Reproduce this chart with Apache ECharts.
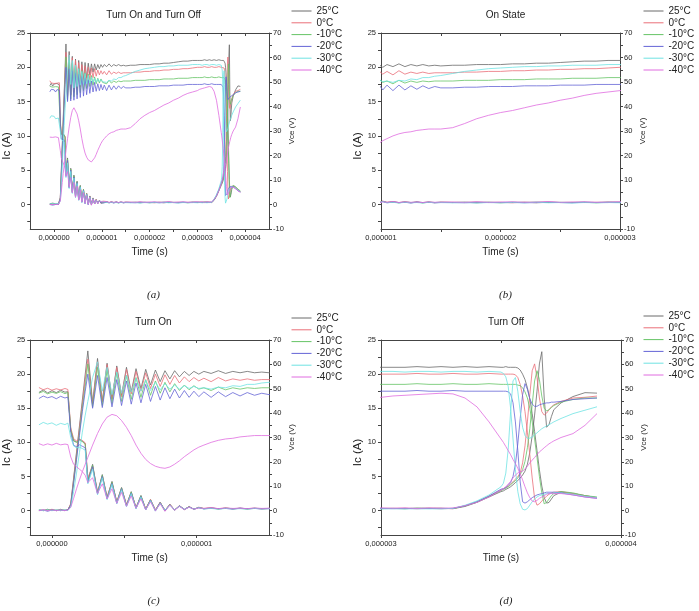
<!DOCTYPE html>
<html><head><meta charset="utf-8">
<script src="https://cdn.jsdelivr.net/npm/echarts@6/dist/echarts.min.js"></script>
<style>html,body{margin:0;padding:0;background:#fff}#c{width:699px;height:611px}</style>
</head><body><div id="c"></div>
<script>
// time in microseconds
const T = [
 -0.09, -0.06, -0.03, 0.0, 0.03, 0.06, 0.09, 0.11,
 0.13, 0.15, 0.17, 0.19, 0.21, 0.23,
 0.248, 0.281, 0.315, 0.348, 0.381, 0.415, 0.448, 0.481, 0.515, 0.548, 0.581, 0.615,
 0.648, 0.681, 0.715, 0.748, 0.781, 0.815, 0.848, 0.881, 0.915, 0.948, 0.981, 1.015,
 1.05, 1.1, 1.15, 1.2, 1.25, 1.3, 1.35, 1.4, 1.45, 1.5,
 1.6, 1.7, 1.8, 1.9, 2.0, 2.1, 2.2, 2.3, 2.4, 2.5, 2.6, 2.7, 2.8, 2.9, 3.0,
 3.05, 3.1, 3.15, 3.2, 3.25, 3.3, 3.35, 3.4, 3.45, 3.5,
 3.51, 3.52, 3.53, 3.54, 3.55, 3.56, 3.57, 3.58, 3.59, 3.6, 3.61, 3.62, 3.63, 3.64, 3.65, 3.66, 3.67, 3.68, 3.69, 3.7, 3.71, 3.72,
 3.75, 3.8, 3.85, 3.9
];

const temps = ['25°C', '0°C', '-10°C', '-20°C', '-30°C', '-40°C'];

// Ic (A)
const ic25 = [
 0.1, 0.0, 0.2, 0.0, 0.1, 0.0, 0.1, 0.1,
 1.0, 4.8, 8.6, 12.4, 16.2, 20.0,
 23.4, 15.8, 22.3, 16.0, 21.6, 16.4, 21.2, 16.9, 21.0, 17.4, 20.8, 17.9, 20.7, 18.4, 20.6, 18.9, 20.5, 19.3, 20.5, 19.6, 20.4, 19.8, 20.4, 20.0,
 20.4, 20.1, 20.5, 20.1, 20.4, 20.2, 20.4, 20.2, 20.3, 20.2,
 20.3, 20.3, 20.4, 20.4, 20.4, 20.5, 20.5, 20.6, 20.6, 20.7, 20.8, 20.9, 20.9, 21.0, 21.0,
 21.0, 21.0, 21.1, 21.0, 21.1, 21.0, 21.1, 21.0, 21.1, 21.0,
 21.0, 21.1, 21.0, 21.0, 21.0, 21.0, 20.9, 20.6, 20.0, 19.2, 18.0, 16.4, 14.2, 11.6, 8.8, 6.0, 3.6, 1.9, 1.1, 1.2, 1.7, 2.2,
 2.7, 2.5, 2.2, 1.9
];
const ic0 = [
 0.0, 0.1, 0.0, 0.2, 0.0, 0.1, 0.0, 0.1,
 1.0, 4.6, 8.3, 12.0, 15.6, 19.2,
 22.2, 15.6, 21.8, 15.9, 21.4, 16.3, 21.0, 16.7, 20.7, 17.1, 20.4, 17.5, 20.2, 17.9, 20.0, 18.2, 19.9, 18.5, 19.8, 18.7, 19.6, 18.9, 19.5, 19.0,
 19.4, 18.9, 19.5, 19.0, 19.3, 19.1, 19.3, 19.1, 19.2, 19.2,
 19.2, 19.3, 19.3, 19.4, 19.4, 19.5, 19.5, 19.6, 19.6, 19.7, 19.7, 19.8, 19.8, 19.9, 20.0,
 20.0, 20.0, 20.1, 20.0, 20.0, 20.1, 20.0, 20.0, 20.1, 20.0,
 20.0, 20.0, 20.0, 20.0, 20.0, 19.9, 19.5, 18.5, 16.8, 14.5, 11.5, 8.2, 4.8, 1.8, 0.8, 1.0, 1.4, 1.8, 2.1, 2.4, 2.6, 2.7,
 2.8, 2.5, 2.2, 1.9
];
const ic10 = [
 0.1, 0.0, 0.1, 0.1, 0.0, 0.2, 0.0, 0.1,
 0.8, 4.2, 7.8, 11.4, 15.0, 18.2,
 21.5, 15.2, 21.0, 15.4, 20.6, 15.7, 20.2, 16.0, 19.8, 16.3, 19.5, 16.6, 19.2, 16.9, 19.0, 17.2, 18.8, 17.4, 18.6, 17.6, 18.4, 17.7, 18.3, 17.8,
 18.0, 17.6, 18.1, 17.7, 18.0, 17.8, 18.0, 17.9, 18.0, 18.0,
 18.0, 18.1, 18.1, 18.1, 18.2, 18.2, 18.2, 18.3, 18.3, 18.3, 18.4, 18.4, 18.4, 18.5, 18.5,
 18.5, 18.5, 18.6, 18.5, 18.5, 18.6, 18.5, 18.5, 18.6, 18.5,
 18.5, 18.5, 18.5, 18.5, 18.5, 18.5, 18.4, 18.3, 18.0, 17.4, 16.5, 15.0, 13.0, 10.5, 7.8, 5.0, 2.6, 1.0, 1.2, 1.7, 2.2, 2.5,
 2.8, 2.6, 2.2, 2.0
];
const ic20 = [
 0.0, 0.1, -0.1, 0.1, 0.0, 0.1, 0.0, 0.1,
 0.8, 4.0, 7.5, 11.0, 14.5, 17.5,
 20.0, 15.0, 19.8, 15.1, 19.5, 15.2, 19.2, 15.4, 19.0, 15.6, 18.7, 15.8, 18.5, 16.0, 18.2, 16.2, 18.0, 16.4, 17.8, 16.5, 17.6, 16.6, 17.5, 16.7,
 17.4, 16.6, 17.4, 16.7, 17.3, 16.8, 17.3, 16.9, 17.2, 17.0,
 17.0, 17.1, 17.1, 17.2, 17.2, 17.2, 17.3, 17.3, 17.3, 17.4, 17.4, 17.4, 17.5, 17.5, 17.5,
 17.5, 17.5, 17.6, 17.5, 17.5, 17.6, 17.5, 17.5, 17.5, 17.5,
 17.5, 17.5, 17.4, 17.1, 15.8, 13.0, 8.8, 4.2, 1.3, 1.1, 1.3, 1.6, 1.9, 2.1, 2.3, 2.4, 2.5, 2.6, 2.7, 2.7, 2.7, 2.7,
 2.6, 2.3, 2.0, 1.8
];
const ic30 = [
 0.1, 0.0, 0.1, 0.0, 0.1, 0.0, 0.1, 0.0,
 0.5, 2.8, 5.5, 8.5, 11.5, 14.0,
 16.0, 19.5, 21.8, 17.5, 21.0, 17.0, 20.3, 17.2, 19.8, 17.4, 19.4, 17.5, 19.1, 17.6, 18.8, 17.7, 18.6, 17.8, 18.4, 17.8, 18.3, 17.9, 18.2, 17.9,
 18.0, 17.8, 18.1, 18.0, 18.3, 18.2, 18.5, 18.5, 18.7, 18.8,
 19.1, 19.4, 19.6, 19.8, 19.9, 20.0, 20.1, 20.1, 20.2, 20.2, 20.3, 20.3, 20.3, 20.4, 20.4,
 20.4, 20.3, 20.4, 20.4, 20.3, 20.4, 20.4, 20.3, 20.4, 20.3,
 20.1, 19.6, 18.2, 15.0, 10.5, 6.0, 2.8, 1.0, 0.2, 0.1, 0.3, 0.8, 1.3, 1.7, 2.0, 2.2, 2.3, 2.4, 2.5, 2.5, 2.5, 2.6,
 2.6, 2.4, 2.1, 1.9
];
const ic40 = [
 0.0, 0.1, 0.0, 0.1, 0.0, 0.1, 0.0, 0.1,
 0.5, 1.8, 3.2, 4.5, 5.7, 6.8,
 7.8, 9.6, 11.3, 12.7, 13.7, 14.1, 13.9, 13.2, 12.2, 11.0, 9.6, 8.4, 7.5, 6.9, 6.5, 6.3, 6.2, 6.4, 6.8, 7.3, 7.9, 8.4, 8.9, 9.3,
 9.6, 10.0, 10.3, 10.5, 10.6, 10.8, 10.9, 11.0, 11.0, 11.0,
 11.2, 11.8, 12.5, 13.0, 13.4, 13.7, 14.1, 14.5, 14.8, 15.2, 15.5, 15.9, 16.2, 16.4, 16.6,
 16.8, 16.9, 17.0, 17.1, 17.2, 17.1, 16.5, 15.2, 13.0, 10.5,
 10.0, 9.4, 8.8, 8.2, 7.5, 6.9, 6.2, 5.4, 4.5, 3.5, 2.6, 1.9, 1.4, 1.3, 1.5, 1.8, 2.0, 2.2, 2.4, 2.5, 2.5, 2.5,
 2.5, 2.3, 2.0, 1.8
];

// Vce (V)
const vce25 = [
 48.5, 49.5, 48.3, 49.2, 48.4, 49.4, 48.6, 48.8,
 33.0, 28.8, 28.2, 29.2, 28.5, 27.5,
 12.6, 19.0, 7.3, 14.8, 5.3, 12.0, 3.4, 9.5, 2.2, 7.8, 1.1, 6.2, 0.6, 4.5, 0.2, 3.4, 0.1, 2.5, 0.3, 2.0, 0.5, 1.6, 0.6, 1.3,
 0.8, 1.1, 0.7, 1.0, 0.8, 1.0, 0.7, 0.9, 0.8, 0.9,
 0.8, 0.9, 0.7, 0.9, 0.8, 0.8, 0.9, 0.7, 0.9, 0.8, 0.8, 0.9, 0.8, 1.0, 0.9,
 0.9, 0.8, 1.0, 0.9, 1.0, 0.8, 1.7, 3.4, 5.6, 7.8,
 8.1, 8.7, 9.2, 9.8, 10.6, 11.5, 12.3, 13.4, 14.6, 16.2, 19.0, 23.8, 30.8, 39.2, 49.0, 60.2, 65.2, 46.2, 34.2, 35.3, 38.6, 41.4,
 44.2, 46.8, 48.4, 48.2
];
const vce0 = [
 50.5, 49.6, 50.2, 49.4, 50.0, 49.5, 50.1, 49.7,
 34.0, 29.5, 28.6, 29.4, 28.8, 27.8,
 13.5, 18.2, 7.8, 14.2, 5.8, 11.5, 3.8, 9.2, 2.6, 7.4, 1.4, 6.0, 0.8, 4.6, 0.3, 3.5, 0.0, 2.7, 0.2, 2.1, 0.4, 1.7, 0.5, 1.4,
 0.9, 1.2, 0.8, 1.1, 0.7, 1.0, 0.8, 1.0, 0.7, 0.9,
 0.9, 0.8, 1.0, 0.8, 0.9, 0.7, 0.9, 0.8, 1.0, 0.8, 0.9, 0.8, 0.9, 0.8, 0.9,
 0.9, 1.0, 0.8, 1.0, 0.9, 0.8, 2.0, 3.6, 5.9, 8.4,
 9.0, 9.5, 10.1, 10.9, 11.8, 12.9, 14.0, 15.4, 19.6, 26.6, 36.4, 47.6, 57.4, 60.2, 54.6, 46.2, 40.6, 39.2, 40.0, 41.4, 42.6, 43.4,
 44.8, 46.2, 46.5, 47.0
];
const vce10 = [
 48.2, 48.9, 47.9, 48.6, 48.1, 48.8, 48.0, 48.5,
 33.0, 28.5, 28.0, 28.9, 28.3, 27.2,
 12.0, 18.6, 7.0, 14.5, 5.0, 11.7, 3.2, 9.3, 2.0, 7.6, 1.0, 6.1, 0.5, 4.4, 0.1, 3.3, 0.0, 2.5, 0.3, 1.9, 0.5, 1.6, 0.6, 1.3,
 0.8, 1.0, 0.7, 1.0, 0.8, 0.9, 0.7, 1.0, 0.8, 0.9,
 0.8, 0.9, 0.8, 0.9, 0.7, 0.9, 0.8, 1.0, 0.8, 0.9, 0.8, 0.9, 0.7, 0.9, 0.8,
 0.9, 0.8, 1.0, 0.9, 0.8, 0.9, 1.9, 3.5, 5.8, 8.2,
 8.7, 9.2, 9.8, 10.6, 11.5, 12.3, 13.4, 14.8, 16.8, 20.2, 25.8, 33.6, 43.4, 53.2, 57.4, 53.8, 47.0, 42.0, 40.9, 41.4, 42.3, 43.1,
 44.5, 45.6, 46.2, 46.2
];
const vce20 = [
 46.0, 47.0, 46.3, 46.8, 45.9, 46.9, 46.2, 46.6,
 32.0, 26.8, 26.2, 27.0, 26.4, 25.8,
 11.5, 18.0, 6.8, 14.0, 4.8, 11.2, 3.0, 9.0, 1.8, 7.2, 0.9, 5.8, 0.3, 4.3, -0.2, 3.2, 0.0, 2.4, 0.2, 1.9, 0.5, 1.5, 0.6, 1.2,
 0.7, 1.0, 0.8, 0.9, 0.6, 1.0, 0.8, 0.9, 0.7, 0.8,
 0.8, 0.7, 0.9, 0.8, 0.8, 0.9, 0.7, 0.8, 0.9, 0.8, 0.7, 0.9, 0.8, 0.8, 0.9,
 0.8, 0.9, 0.8, 0.9, 0.8, 0.9, 2.0, 3.7, 6.0, 8.8,
 9.0, 9.5, 10.4, 11.5, 14.0, 19.0, 27.4, 37.8, 47.6, 52.1, 49.8, 45.9, 43.7, 42.8, 42.8, 43.4, 43.7, 44.0, 44.2, 44.2, 44.5, 44.5,
 44.8, 45.6, 45.9, 46.2
];
const vce30 = [
 35.2, 36.2, 35.5, 36.0, 35.0, 35.8, 35.3, 35.9,
 30.0, 26.5, 25.8, 26.0, 25.5, 24.8,
 11.0, 17.0, 6.5, 13.5, 4.5, 10.8, 2.8, 8.6, 1.7, 7.0, 0.8, 5.6, 0.3, 4.1, 0.0, 3.0, 0.1, 2.3, 0.3, 1.8, 0.5, 1.4, 0.6, 1.2,
 0.7, 0.9, 0.6, 0.9, 0.7, 0.8, 0.6, 0.9, 0.7, 0.8,
 0.7, 0.8, 0.6, 0.8, 0.7, 0.8, 0.7, 0.9, 0.7, 0.8, 0.6, 0.8, 0.7, 0.8, 0.7,
 0.8, 0.7, 0.8, 0.7, 0.8, 0.9, 2.2, 4.0, 6.4, 9.8,
 11.2, 15.4, 25.2, 40.6, 53.2, 54.6, 49.0, 40.6, 34.2, 30.8, 29.7, 29.7, 30.2, 31.1, 31.9, 32.8, 33.6, 34.2, 34.7, 35.3, 35.8, 36.4,
 37.8, 39.8, 41.2, 42.6
];
const vce40 = [
 27.5, 26.8, 27.4, 26.9, 27.6, 27.0, 27.3, 27.1,
 22.0, 19.0, 18.0, 17.0, 16.0, 14.5,
 11.5, 13.5, 7.0, 11.0, 4.8, 9.0, 3.0, 7.5, 1.8, 6.0, 1.0, 4.8, 0.4, 3.6, 0.0, 2.8, -0.3, 2.2, 0.2, 1.7, 0.4, 1.4, 0.6, 1.1,
 0.9, 1.2, 0.8, 1.1, 0.9, 1.0, 0.8, 1.1, 0.9, 1.0,
 1.0, 0.9, 1.1, 0.9, 1.0, 1.1, 0.9, 1.0, 1.2, 0.9, 1.0, 1.1, 0.9, 1.0, 1.1,
 1.0, 1.1, 0.9, 1.1, 1.0, 1.1, 2.0, 3.4, 5.6, 8.4,
 9.0, 9.8, 10.9, 12.0, 13.4, 14.6, 15.4, 16.0, 16.2, 17.1, 18.2, 19.6, 20.7, 21.8, 23.0, 24.1, 24.9, 25.8, 26.6, 27.4, 28.0, 28.6,
 30.0, 31.6, 35.0, 39.8
];

// axis ticks / labels
const icLabels = [0, 5, 10, 15, 20, 25];
const icTicks = [-2.5, 0, 2.5, 5, 7.5, 10, 12.5, 15, 17.5, 20, 22.5, 25];
const vceLabels = [-10, 0, 10, 20, 30, 40, 50, 60, 70];
const vceTicks = [-10, -5, 0, 5, 10, 15, 20, 25, 30, 35, 40, 45, 50, 55, 60, 65, 70];

const icSet = [ic25, ic0, ic10, ic20, ic30, ic40];
const vceSet = [vce25, vce0, vce10, vce20, vce30, vce40];
const colors = ['#6a6a6a', '#ea6f78', '#66c466', '#6464d6', '#6fe3e3', '#e06ce0'];

const panels = [
  {title: 'Turn On and Turn Off', cap: '(a)', left: 28, top: 33, width: 241, height: 196,
   xmin: -0.5, xmax: 4.5, xLabels: [0, 1, 2, 3, 4], xTicks: [0, 0.5, 1, 1.5, 2, 2.5, 3, 3.5, 4], legX: 291, legY: 6},
  {title: 'On State', cap: '(b)', left: 381, top: 33, width: 239, height: 196,
   xmin: 1, xmax: 3, xLabels: [1, 2, 3], xTicks: [1, 1.5, 2, 2.5, 3], legX: 643, legY: 6},
  {title: 'Turn On', cap: '(c)', left: 28, top: 340, width: 241, height: 195,
   xmin: -0.15, xmax: 1.5, xLabels: [0, 1], xTicks: [0, 0.5, 1], legX: 291, legY: 313},
  {title: 'Turn Off', cap: '(d)', left: 381, top: 340, width: 240, height: 195,
   xmin: 3, xmax: 4, xLabels: [3, 4], xTicks: [3, 3.5, 4], legX: 643, legY: 311}
];

const FONT = '"Liberation Sans", Arial, sans-serif';
const axisCol = '#444';
const lab = '#222';
const fmtTime = v => (v * 1e-6).toFixed(6).replace('.', ',');

const grid = [], xAxis = [], yAxis = [], series = [], legend = [], graphic = [];
panels.forEach((p, i) => {
  grid.push({left: p.left, top: p.top, width: p.width, height: p.height});
  const line = {show: true, onZero: false, lineStyle: {color: axisCol, width: 1}};
  xAxis.push({
    gridIndex: i, type: 'value', position: 'bottom', min: p.xmin, max: p.xmax,
    axisLine: line,
    axisTick: {show: true, inside: false, length: 3, customValues: p.xTicks, lineStyle: {color: axisCol}},
    axisLabel: {customValues: p.xLabels, formatter: fmtTime, fontSize: 7.5, fontFamily: FONT, color: lab, margin: 5,
                showMinLabel: true, showMaxLabel: true},
    splitLine: {show: false},
    name: 'Time (s)', nameLocation: 'middle', nameGap: 18,
    nameTextStyle: {fontSize: 10, fontFamily: FONT, color: lab}
  });
  xAxis.push({
    gridIndex: i, type: 'value', position: 'top', min: p.xmin, max: p.xmax,
    axisLine: line,
    axisTick: {show: true, inside: true, length: 3, customValues: p.xTicks, lineStyle: {color: axisCol}},
    axisLabel: {show: false}, splitLine: {show: false}
  });
  yAxis.push({
    gridIndex: i, type: 'value', position: 'left', min: -25 / 7, max: 25,
    axisLine: line,
    axisTick: {show: true, inside: false, length: 3, customValues: icTicks, lineStyle: {color: axisCol}},
    axisLabel: {customValues: icLabels, fontSize: 7.5, fontFamily: FONT, color: lab, margin: 5},
    splitLine: {show: false},
    name: 'Ic (A)', nameLocation: 'middle', nameGap: 14,
    nameTextStyle: {fontSize: 11.5, fontFamily: FONT, color: lab, padding: [0, 30, 0, 0]}
  });
  yAxis.push({
    gridIndex: i, type: 'value', position: 'right', min: -10, max: 70, interval: 10,
    axisLine: line,
    axisTick: {show: true, inside: false, length: 3, customValues: vceTicks, lineStyle: {color: axisCol}},
    axisLabel: {customValues: vceLabels, fontSize: 7.5, fontFamily: FONT, color: lab, margin: 4},
    splitLine: {show: false},
    name: 'Vce (V)', nameLocation: 'middle', nameGap: 16,
    nameTextStyle: {fontSize: 8, fontFamily: FONT, color: lab}
  });
  temps.forEach((name, j) => {
    const common = {name, type: 'line', xAxisIndex: 2 * i, showSymbol: false, symbol: 'none',
      lineStyle: {width: 0.8, color: colors[j]}, itemStyle: {color: colors[j]}, animation: false, clip: true};
    series.push(Object.assign({}, common, {yAxisIndex: 2 * i, data: T.map((t, k) => [t, icSet[j][k]])}));
    series.push(Object.assign({}, common, {yAxisIndex: 2 * i + 1, data: T.map((t, k) => [t, vceSet[j][k]])}));
  });
  legend.push({
    data: temps, orient: 'vertical', left: p.legX, top: p.legY,
    itemWidth: 20, itemHeight: 8, itemGap: 1.8, padding: 0,
    itemStyle: {opacity: 0}, lineStyle: {width: 1},
    textStyle: {fontSize: 10, fontFamily: FONT, color: lab, lineHeight: 8}
  });
  graphic.push({type: 'text', x: p.left + p.width / 2 + 5, y: p.top - 18,
    style: {text: p.title, font: '10px ' + FONT, fill: lab, textAlign: 'center', textVerticalAlign: 'middle'}});
  graphic.push({type: 'text', x: p.left + p.width / 2 + 5, y: i < 2 ? 295 : 601,
    style: {text: p.cap, font: 'italic 11px "Liberation Serif", "Times New Roman", serif', fill: lab,
            textAlign: 'center', textVerticalAlign: 'middle'}});
});

const chart = echarts.init(document.getElementById('c'), null, {renderer: 'canvas'});
chart.setOption({
  backgroundColor: '#fff', animation: false,
  grid, xAxis, yAxis, series, legend, graphic
});
</script>
</body></html>
